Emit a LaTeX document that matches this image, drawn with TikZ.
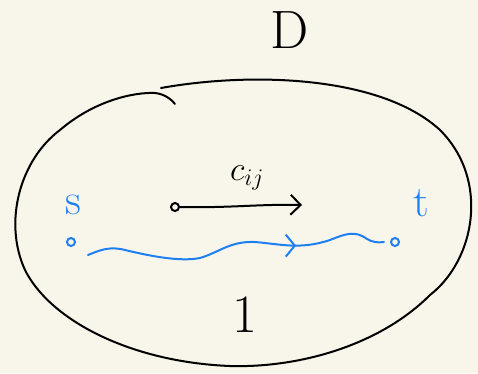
\documentclass[tikz,border=0pt]{standalone}
\usepackage{fix-cm}
\usetikzlibrary{arrows.meta, decorations.markings, positioning}
\definecolor{paper}{HTML}{F8F6EA}
\definecolor{penblue}{HTML}{1E80F0}

\tikzset{
  pen/.style={line width=2pt, line cap=round, line join=round},
  dot/.style={circle, draw, line width=2pt, minimum size=8pt, inner sep=0pt},
  hand/.style={font=\fontsize{54}{54}\selectfont},
}

\begin{document}
\begin{tikzpicture}[x=1pt, y=-1pt]
        \fill[paper] (0,0) rectangle (478,373);
        \useasboundingbox (0,0) rectangle (478,373);

        % Domain boundary
        \draw[pen] (161,88) .. controls (250,72) and (380,75) .. (440,130)
          .. controls (490,180) and (475,260) .. (430,295)
          .. controls (380,345) and (300,368) .. (230,366)
          .. controls (130,362) and (50,320) .. (25,270)
          .. controls (3,222) and (20,160) .. (60,130)
          .. controls (95,100) and (135,92) .. (155,93)
          .. controls (165,94) and (172,100) .. (175,104);
        \node[hand] (dlabel) at (290,30) {D};

        % Edge with cost
        \node[dot] (u) at (175,207) {};
        \coordinate (v) at (302,205);
        \draw[pen, -{Straight Barb[length=10pt, width=20pt, line width=2pt]}] (u) .. controls (230,208) and (260,204) .. (v);
        \node[font=\fontsize{34}{34}\selectfont] (cost) at (247,178) {$c_{ij}$};

        % Source and sink
        \node[dot, draw=penblue] (s) at (71,242) {};
        \node[dot, draw=penblue] (t) at (395,242) {};
        \node[text=penblue, font=\fontsize{44}{44}\selectfont] (slabel) at (73,205) {s};
        \node[text=penblue, font=\fontsize{44}{44}\selectfont] (tlabel) at (421,203) {t};
        \draw[pen, penblue, decoration={markings, mark=at position 0.7 with {\arrow{Straight Barb[length=9pt, width=22pt, line width=2pt]}}}, postaction={decorate}]
          (88,255) .. controls (100,250) and (110,246) .. (125,250)
          .. controls (150,256) and (180,262) .. (200,258)
          .. controls (220,252) and (230,241) .. (255,242)
          .. controls (280,244) and (300,250) .. (330,240)
          .. controls (345,234) and (355,230) .. (367,239)
          .. controls (372,242) and (378,243) .. (384,242);

        % Flow value
        \node[hand] (flow) at (245,315) {1};
\end{tikzpicture}
\end{document}
